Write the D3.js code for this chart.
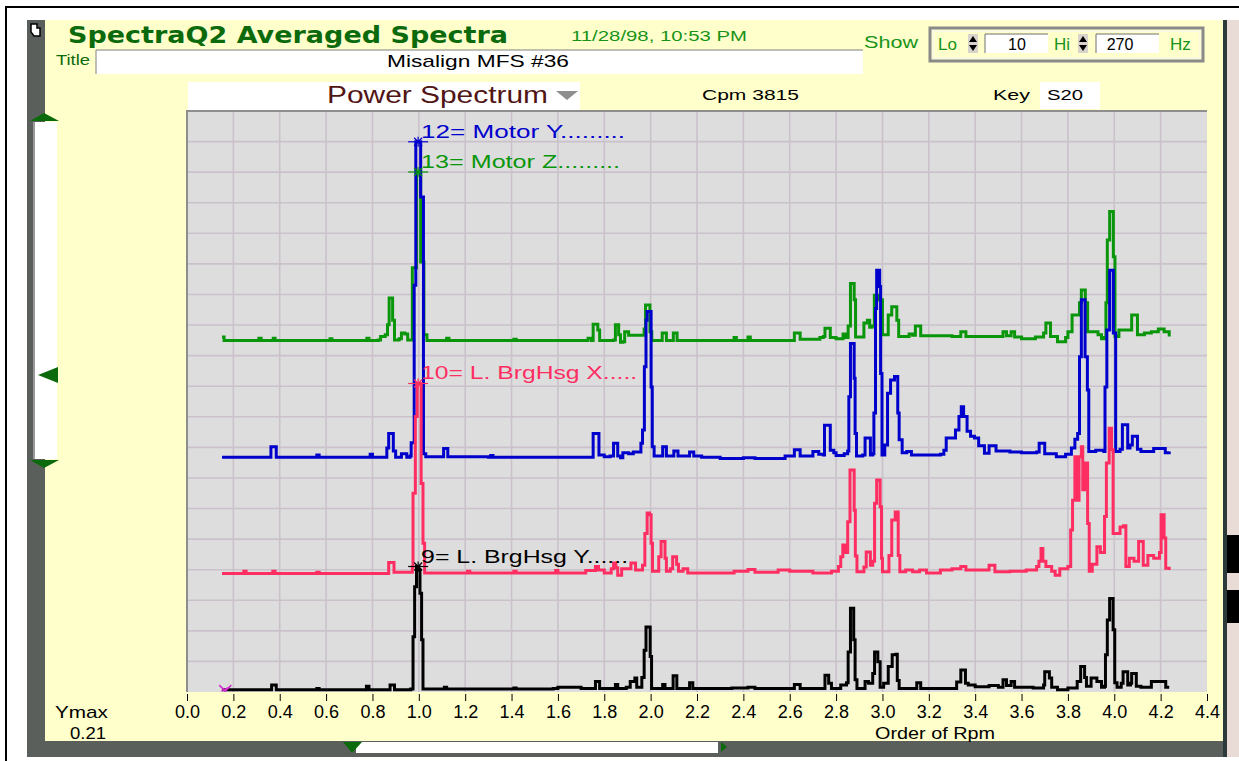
<!DOCTYPE html>
<html>
<head>
<meta charset="utf-8">
<script src="https://cdn.jsdelivr.net/npm/d3@7"></script>
<style>
  body { margin: 0; background: #ffffff; }
  svg text { font-family: "Liberation Sans", Arial, sans-serif; }
</style>
</head>
<body>
<svg id="chart" width="1239" height="761"></svg>
<script>
"use strict";

// ---- data (amplitude in % of plot height, order of rpm) ----
const x_ticks = [0.0, 0.2, 0.4, 0.6, 0.8, 1.0, 1.2, 1.4, 1.6, 1.8, 2.0, 2.2, 2.4, 2.6, 2.8, 3.0, 3.2, 3.4, 3.6, 3.8, 4.0, 4.2, 4.4];

const trace_names = ["9= L. BrgHsg Y......", "10= L. BrgHsg X.....", "12= Motor Y.........", "13= Motor Z........."];
const trace_offsets = [0, 20, 40, 60];

const black_brg_y = [[0.151,0.4],[0.36,0.4],[0.365,1.2],[0.378,1.2],[0.385,0.4],[0.55,0.4],[0.56,0.6],[0.57,0.4],[0.768,0.4],[0.774,1.0],[0.785,0.4],[0.870,0.4],[0.876,1.2],[0.888,1.2],[0.895,0.4],[0.965,0.5],[0.975,9.5],[0.982,18.1],[0.990,21.6],[1.000,21.0],[1.005,17.0],[1.012,9.0],[1.018,0.5],[1.10,0.5],[1.11,0.8],[1.12,0.5],[1.40,0.5],[1.41,0.7],[1.42,0.5],[1.58,0.6],[1.60,0.8],[1.70,0.6],[1.755,0.6],[1.762,1.8],[1.772,1.8],[1.780,0.6],[1.84,0.6],[1.848,1.3],[1.858,0.6],[1.895,0.8],[1.912,1.8],[1.925,1.8],[1.932,2.4],[1.940,0.8],[1.955,0.8],[1.962,2.5],[1.972,7.2],[1.980,11.2],[1.992,11.2],[1.998,6.1],[2.004,0.6],[2.040,0.6],[2.052,1.3],[2.062,0.6],[2.090,0.6],[2.097,2.8],[2.108,2.8],[2.113,0.6],[2.160,0.6],[2.168,1.6],[2.176,1.6],[2.182,0.6],[2.35,0.7],[2.42,0.8],[2.45,0.6],[2.60,0.6],[2.62,1.3],[2.635,1.3],[2.645,0.6],[2.745,0.6],[2.752,2.9],[2.762,2.9],[2.768,1.5],[2.78,0.6],[2.82,1.2],[2.845,1.6],[2.852,6.9],[2.862,14.4],[2.870,14.4],[2.876,9.0],[2.882,2.1],[2.890,0.6],[2.925,1.8],[2.940,1.5],[2.958,3.2],[2.966,6.9],[2.974,6.9],[2.980,5.2],[2.990,0.8],[3.005,1.5],[3.025,4.4],[3.042,6.4],[3.058,6.5],[3.064,2.0],[3.072,0.6],[3.14,0.6],[3.148,1.6],[3.158,1.6],[3.165,0.6],[3.30,0.6],[3.32,1.7],[3.338,3.8],[3.350,3.8],[3.358,1.5],[3.37,1.2],[3.40,0.9],[3.46,1.1],[3.50,0.8],[3.52,2.1],[3.535,1.1],[3.555,1.8],[3.57,0.8],[3.65,0.7],[3.695,1.2],[3.700,3.5],[3.712,3.5],[3.720,2.4],[3.730,0.8],[3.755,0.4],[3.80,0.7],[3.840,1.8],[3.855,4.4],[3.865,4.4],[3.872,2.5],[3.880,1.0],[3.90,2.4],[3.925,1.8],[3.945,0.8],[3.958,1.0],[3.962,6.4],[3.970,12.4],[3.980,16.1],[3.990,16.1],[3.995,10.7],[4.002,1.6],[4.012,0.8],[4.030,1.5],[4.038,3.5],[4.050,3.5],[4.058,1.2],[4.070,1.5],[4.075,3.2],[4.088,3.2],[4.095,1.0],[4.115,0.8],[4.160,1.8],[4.200,1.8],[4.222,0.8],[4.237,0.8]];

const red_brg_x = [[0.151,0.4],[0.240,0.4],[0.245,0.8],[0.255,0.4],[0.36,0.4],[0.37,0.8],[0.38,0.4],[0.55,0.4],[0.56,0.6],[0.57,0.4],[0.862,0.4],[0.870,2.3],[0.885,2.3],[0.893,0.6],[0.960,0.6],[0.972,1.5],[0.975,14.2],[0.985,27.4],[0.993,33.1],[1.003,33.1],[1.010,15.9],[1.018,5.6],[1.025,0.5],[1.20,0.5],[1.21,0.8],[1.22,0.5],[1.40,0.5],[1.41,0.8],[1.42,0.5],[1.58,0.5],[1.59,0.9],[1.60,0.5],[1.70,0.5],[1.72,0.9],[1.762,1.6],[1.775,1.0],[1.80,0.5],[1.83,1.2],[1.840,2.2],[1.850,1.4],[1.858,0.1],[1.875,1.2],[1.915,2.2],[1.925,2.2],[1.935,1.0],[1.955,1.0],[1.965,1.8],[1.975,7.3],[1.985,10.8],[1.995,10.5],[2.002,5.6],[2.008,0.8],[2.025,0.8],[2.035,3.3],[2.045,5.9],[2.058,5.9],[2.062,3.0],[2.068,0.8],[2.085,1.2],[2.095,3.3],[2.105,3.3],[2.112,2.0],[2.120,0.8],[2.14,1.2],[2.16,0.5],[2.36,0.8],[2.42,1.1],[2.45,0.6],[2.55,1.0],[2.60,0.8],[2.70,0.5],[2.78,0.8],[2.810,1.6],[2.820,3.3],[2.829,5.3],[2.840,4.0],[2.850,9.3],[2.860,18.2],[2.870,18.2],[2.878,11.3],[2.883,3.4],[2.890,0.7],[2.920,1.5],[2.930,4.1],[2.940,4.1],[2.948,1.8],[2.958,2.5],[2.966,12.5],[2.975,16.5],[2.984,16.5],[2.990,11.9],[2.996,3.0],[3.000,0.7],[3.020,0.7],[3.028,3.5],[3.040,9.6],[3.055,11.0],[3.062,11.0],[3.068,3.5],[3.075,0.7],[3.10,1.0],[3.13,0.7],[3.16,1.0],[3.19,0.5],[3.25,1.0],[3.30,1.2],[3.338,1.6],[3.350,1.6],[3.36,1.0],[3.44,1.0],[3.460,1.8],[3.475,1.8],[3.485,0.7],[3.55,0.8],[3.62,1.0],[3.665,1.6],[3.675,2.5],[3.684,4.7],[3.692,2.5],[3.705,1.6],[3.730,0.8],[3.745,0.1],[3.765,1.2],[3.800,1.6],[3.812,7.9],[3.820,13.0],[3.830,20.5],[3.840,13.0],[3.848,20.5],[3.858,22.2],[3.864,14.8],[3.872,19.4],[3.878,19.4],[3.885,9.0],[3.892,0.8],[3.905,2.0],[3.925,5.0],[3.940,4.0],[3.958,10.2],[3.966,19.4],[3.978,25.4],[3.988,21.7],[3.995,7.3],[4.010,7.3],[4.025,8.4],[4.040,8.6],[4.050,1.6],[4.065,3.0],[4.085,2.5],[4.105,5.9],[4.115,5.9],[4.125,1.8],[4.145,3.5],[4.170,3.0],[4.195,4.0],[4.202,10.5],[4.210,10.5],[4.215,6.5],[4.222,1.3],[4.237,1.0]];

const blue_motor_y = [[0.151,0.4],[0.355,0.4],[0.362,2.2],[0.378,2.2],[0.385,0.4],[0.55,0.4],[0.56,0.8],[0.57,0.4],[0.78,0.4],[0.79,0.9],[0.80,0.4],[0.855,0.4],[0.862,2.0],[0.870,4.5],[0.882,4.5],[0.890,1.5],[0.900,0.4],[0.915,0.4],[0.925,1.0],[0.940,1.0],[0.948,0.4],[0.962,0.6],[0.967,2.9],[0.975,2.9],[0.980,30.0],[0.987,54.7],[1.003,54.7],[1.008,45.2],[1.015,45.2],[1.020,1.0],[1.030,0.5],[1.100,0.5],[1.107,1.9],[1.117,1.9],[1.125,0.5],[1.30,0.4],[1.31,0.7],[1.32,0.4],[1.745,0.4],[1.752,4.5],[1.770,4.5],[1.777,0.8],[1.800,0.5],[1.825,0.6],[1.840,2.8],[1.852,2.8],[1.858,0.6],[1.870,0.3],[1.880,1.2],[1.905,1.0],[1.925,1.3],[1.945,1.3],[1.958,2.8],[1.965,5.1],[1.973,16.0],[1.980,24.0],[1.985,25.5],[1.998,25.5],[2.002,12.5],[2.007,2.2],[2.015,0.6],[2.045,0.6],[2.052,2.2],[2.060,2.2],[2.068,0.6],[2.095,0.6],[2.100,1.5],[2.110,1.5],[2.118,0.6],[2.160,0.6],[2.168,1.3],[2.178,1.3],[2.186,0.6],[2.22,0.4],[2.30,0.2],[2.40,0.3],[2.45,0.2],[2.58,0.6],[2.62,1.7],[2.635,1.7],[2.645,0.6],[2.69,0.6],[2.700,1.4],[2.715,1.4],[2.725,0.9],[2.745,0.8],[2.750,5.9],[2.768,5.9],[2.775,1.6],[2.790,1.2],[2.800,0.7],[2.835,1.0],[2.850,1.5],[2.855,10.8],[2.862,20.0],[2.872,20.0],[2.878,14.0],[2.882,4.5],[2.888,0.6],[2.915,0.8],[2.925,3.7],[2.940,3.7],[2.948,0.8],[2.958,1.0],[2.963,8.0],[2.970,26.0],[2.975,32.6],[2.982,32.6],[2.988,29.8],[2.992,14.8],[2.998,0.8],[3.010,2.5],[3.022,11.4],[3.035,13.7],[3.052,14.3],[3.060,14.3],[3.066,8.0],[3.072,3.4],[3.085,1.2],[3.105,1.4],[3.125,0.8],[3.25,0.9],[3.265,1.6],[3.275,3.7],[3.300,3.7],[3.315,5.1],[3.330,7.4],[3.340,9.1],[3.350,7.4],[3.365,4.9],[3.380,4.0],[3.397,3.7],[3.415,2.4],[3.440,1.1],[3.460,2.4],[3.475,2.4],[3.49,1.5],[3.55,1.3],[3.60,1.2],[3.665,1.3],[3.676,2.8],[3.690,2.8],[3.700,1.0],[3.75,0.5],[3.79,0.9],[3.815,2.0],[3.830,3.5],[3.842,4.5],[3.850,17.7],[3.858,27.5],[3.866,27.5],[3.874,17.7],[3.878,17.7],[3.884,12.0],[3.890,1.4],[3.920,1.6],[3.955,1.4],[3.960,12.5],[3.968,22.3],[3.980,32.6],[3.990,32.6],[3.996,21.8],[4.000,21.8],[4.006,1.4],[4.025,1.8],[4.035,6.0],[4.050,6.0],[4.058,2.0],[4.068,2.5],[4.078,4.0],[4.092,4.0],[4.100,1.8],[4.115,1.4],[4.170,1.9],[4.200,1.9],[4.220,1.2],[4.237,1.4]];

const green_motor_z = [[0.151,1.1],[0.160,0.5],[0.300,0.5],[0.310,0.9],[0.320,0.5],[0.365,0.5],[0.372,0.9],[0.380,0.5],[0.610,0.5],[0.617,0.8],[0.625,0.5],[0.770,0.5],[0.776,0.9],[0.785,0.5],[0.825,0.6],[0.835,1.2],[0.855,1.5],[0.865,3.2],[0.872,7.8],[0.880,7.8],[0.887,4.0],[0.895,0.6],[0.915,0.8],[0.925,1.8],[0.940,1.6],[0.952,0.6],[0.965,0.6],[0.972,13.0],[0.985,13.0],[0.990,29.5],[1.002,29.5],[1.008,14.0],[1.016,14.0],[1.022,1.5],[1.035,0.5],[1.115,0.5],[1.12,0.9],[1.13,0.5],[1.40,0.5],[1.41,0.7],[1.42,0.5],[1.72,0.5],[1.73,0.9],[1.745,0.5],[1.752,3.3],[1.765,3.3],[1.772,2.3],[1.780,0.5],[1.84,0.6],[1.848,3.2],[1.857,3.2],[1.862,1.5],[1.870,0.2],[1.880,0.3],[1.888,2.0],[1.897,2.0],[1.905,1.4],[1.960,1.4],[1.972,2.5],[1.978,6.6],[1.992,6.6],[1.997,2.0],[2.005,0.5],[2.045,0.5],[2.050,1.8],[2.062,1.8],[2.068,0.5],[2.093,0.5],[2.098,1.8],[2.108,1.8],[2.114,0.5],[2.35,0.5],[2.36,1.0],[2.37,0.5],[2.41,0.5],[2.42,1.1],[2.43,0.5],[2.60,0.5],[2.62,1.8],[2.635,1.8],[2.645,0.7],[2.72,0.7],[2.73,1.0],[2.745,1.2],[2.752,2.6],[2.768,2.6],[2.775,1.0],[2.80,0.8],[2.83,1.6],[2.840,1.0],[2.852,3.0],[2.862,10.3],[2.872,10.3],[2.878,7.5],[2.884,1.1],[2.91,1.1],[2.92,3.5],[2.935,4.0],[2.945,2.8],[2.955,3.0],[2.965,8.3],[2.975,8.3],[2.985,7.5],[2.995,7.5],[3.000,1.5],[3.015,1.5],[3.025,4.9],[3.040,6.3],[3.055,6.3],[3.062,4.0],[3.070,1.2],[3.10,1.2],[3.115,1.6],[3.13,1.4],[3.142,3.0],[3.158,3.0],[3.165,1.3],[3.30,1.2],[3.338,2.0],[3.352,2.0],[3.36,1.2],[3.50,1.2],[3.52,2.0],[3.535,1.3],[3.555,2.0],[3.57,1.1],[3.60,0.8],[3.66,1.1],[3.695,1.8],[3.705,3.5],[3.715,3.5],[3.725,1.2],[3.755,0.3],[3.79,1.0],[3.80,2.0],[3.818,4.9],[3.838,4.9],[3.85,7.0],[3.858,9.2],[3.868,9.2],[3.875,7.0],[3.885,2.0],[3.90,2.0],[3.93,1.5],[3.945,0.8],[3.958,1.0],[3.964,7.0],[3.970,17.8],[3.980,22.7],[3.990,22.7],[3.996,14.9],[4.003,1.2],[4.02,2.3],[4.06,2.3],[4.075,4.9],[4.090,4.9],[4.100,1.5],[4.13,1.8],[4.16,2.0],[4.19,2.5],[4.215,2.0],[4.237,1.2]];

// cursor markers at 1x rpm: order and peak amplitude for each trace
const marker_order = 0.997;
const marker_amps = [21.6, 33.1, 54.7, 29.5];

// ---- styles ----
const trace_colors = ["#000000", "#ff2e62", "#0000cc", "#0a960a"];
const yellow = "#ffffcc", dark_gray = "#5b5f5b", title_green = "#0b6a0b", text_green = "#179417";

let svg = d3.select("#chart");

// window frame
svg.append("path").attr("d", "M6,761V7H1239").attr("fill", "none").attr("stroke", "#000").attr("stroke-width", 2);
svg.append("rect").attr("x", 45).attr("y", 20).attr("width", 1179).attr("height", 722).attr("fill", yellow);
svg.append("rect").attr("x", 27).attr("y", 20).attr("width", 18).attr("height", 737).attr("fill", dark_gray);
svg.append("rect").attr("x", 27).attr("y", 741).attr("width", 1198).attr("height", 16).attr("fill", dark_gray);
svg.append("rect").attr("x", 1223).attr("y", 20).attr("width", 4).attr("height", 737).attr("fill", "#2c3a3a");
svg.append("rect").attr("x", 1227).attr("y", 20).attr("width", 12).attr("height", 737).attr("fill", "#e9dcd6");
svg.append("rect").attr("x", 1227).attr("y", 535).attr("width", 12).attr("height", 38).attr("fill", "#000");
svg.append("rect").attr("x", 1227).attr("y", 590).attr("width", 12).attr("height", 33).attr("fill", "#000");

// little hand cursor at the top left
svg.append("path").attr("d", "M31,24h6v4h3v8h-6l-3,-4z").attr("fill", "#fff").attr("stroke", "#000").attr("stroke-width", 1.5);

// vertical scroller on the left
svg.append("rect").attr("x", 33).attr("y", 122).attr("width", 24).attr("height", 337).attr("fill", "#fff");
svg.append("line").attr("x1", 34).attr("x2", 34).attr("y1", 122).attr("y2", 459).attr("stroke", "#9a9a9a").attr("stroke-width", 2);
svg.append("polygon").attr("points", "30,121 59,121 44,113").attr("fill", "#0b6a0b");
svg.append("polygon").attr("points", "30,460 59,460 44,468").attr("fill", "#0b6a0b");
svg.append("polygon").attr("points", "38,375 58,367 58,383").attr("fill", "#0b6a0b");

// horizontal scroller at the bottom
svg.append("rect").attr("x", 356).attr("y", 742).attr("width", 362).attr("height", 11).attr("fill", "#fff");
svg.append("polygon").attr("points", "343,742 362,742 352,753").attr("fill", "#0b6a0b");
svg.append("polygon").attr("points", "721,742 727,747 721,752").attr("fill", "#0b6a0b");

// ---- header ----
svg.append("text").attr("x", 68).attr("y", 43).attr("textLength", 440).attr("lengthAdjust", "spacingAndGlyphs")
  .style("font-family", "'DejaVu Sans', sans-serif").attr("font-weight", "bold").attr("font-size", 23)
  .attr("fill", title_green).text("SpectraQ2 Averaged Spectra");
svg.append("text").attr("x", 571).attr("y", 41).attr("textLength", 176).attr("lengthAdjust", "spacingAndGlyphs")
  .attr("font-size", 15).attr("fill", text_green).text("11/28/98, 10:53 PM");
svg.append("text").attr("x", 56).attr("y", 65).attr("textLength", 34).attr("lengthAdjust", "spacingAndGlyphs")
  .attr("font-size", 14).attr("fill", title_green).text("Title");

svg.append("rect").attr("x", 96).attr("y", 50).attr("width", 767).attr("height", 24).attr("fill", "#fff");
svg.append("path").attr("d", "M96,74V50H863").attr("fill", "none").attr("stroke", "#808080").attr("stroke-width", 1);
svg.append("text").attr("x", 387).attr("y", 67).attr("textLength", 182).attr("lengthAdjust", "spacingAndGlyphs")
  .attr("font-size", 17).attr("fill", "#000").text("Misalign MFS #36");

svg.append("text").attr("x", 864).attr("y", 48).attr("textLength", 54).attr("lengthAdjust", "spacingAndGlyphs")
  .attr("font-size", 17).attr("fill", text_green).text("Show");

// Lo / Hi group box
svg.append("rect").attr("x", 930).attr("y", 28).attr("width", 273).attr("height", 33).attr("fill", "none")
  .attr("stroke", "#8a8a8a").attr("stroke-width", 3);
svg.append("rect").attr("x", 933).attr("y", 31).attr("width", 267).attr("height", 27).attr("fill", "none")
  .attr("stroke", "#f4f4f4").attr("stroke-width", 1);

let lohi = [
  { label: "Lo", label_x: 938, spin_x: 968, box_x: 985, value: "10", value_x: 1017 },
  { label: "Hi", label_x: 1054, spin_x: 1078, box_x: 1096, value: "270", value_x: 1120 }
];
for (let b of lohi) {
  svg.append("text").attr("x", b.label_x).attr("y", 50).attr("font-size", 17).attr("fill", text_green).text(b.label);
  svg.append("rect").attr("x", b.spin_x).attr("y", 34).attr("width", 10).attr("height", 19).attr("fill", "#d8d4cc");
  svg.append("polygon").attr("points", `${b.spin_x + 1},42 ${b.spin_x + 9},42 ${b.spin_x + 5},36`).attr("fill", "#000");
  svg.append("polygon").attr("points", `${b.spin_x + 1},45 ${b.spin_x + 9},45 ${b.spin_x + 5},51`).attr("fill", "#000");
  svg.append("rect").attr("x", b.box_x).attr("y", 34).attr("width", 63).attr("height", 19).attr("fill", "#fff");
  svg.append("path").attr("d", `M${b.box_x},53V34H${b.box_x + 63}`).attr("fill", "none").attr("stroke", "#707070");
  svg.append("text").attr("x", b.value_x).attr("y", 50).attr("text-anchor", "middle").attr("font-size", 16).attr("fill", "#000").text(b.value);
}
svg.append("text").attr("x", 1170).attr("y", 50).attr("font-size", 17).attr("fill", text_green).text("Hz");

// Power Spectrum selector, Cpm, Key
svg.append("rect").attr("x", 188).attr("y", 82).attr("width", 392).attr("height", 28).attr("fill", "#fff");
svg.append("text").attr("x", 327).attr("y", 103).attr("textLength", 221).attr("lengthAdjust", "spacingAndGlyphs")
  .attr("font-size", 23).attr("fill", "#521515").text("Power Spectrum");
svg.append("polygon").attr("points", "556,91 578,91 567,100").attr("fill", "#8f8f8f");
svg.append("text").attr("x", 702).attr("y", 100).attr("textLength", 97).attr("lengthAdjust", "spacingAndGlyphs")
  .attr("font-size", 15).attr("fill", "#000").text("Cpm  3815");
svg.append("text").attr("x", 993).attr("y", 100).attr("textLength", 37).attr("lengthAdjust", "spacingAndGlyphs")
  .attr("font-size", 15).attr("fill", "#000").text("Key");
svg.append("rect").attr("x", 1040).attr("y", 82).attr("width", 60).attr("height", 27).attr("fill", "#fff");
svg.append("text").attr("x", 1047).attr("y", 100).attr("textLength", 36).attr("lengthAdjust", "spacingAndGlyphs")
  .attr("font-size", 15).attr("fill", "#000").text("S20");

// ---- plot ----
const plot_left = 187, plot_right = 1207, plot_top = 111, plot_bottom = 692;
const grid_rows = 19;

let x_scale = d3.scaleLinear().domain([0, 4.4]).range([plot_left, plot_right]);
let y_scale = d3.scaleLinear().domain([0, 100]).range([plot_bottom, plot_top]);

svg.append("rect").attr("x", plot_left).attr("y", plot_top).attr("width", plot_right - plot_left)
  .attr("height", plot_bottom - plot_top).attr("fill", "#dddddd");

let grid = svg.append("g").attr("stroke", "#cac1cb").attr("stroke-width", 1.6);
grid.selectAll(".vgrid").data(x_ticks.slice(1, -1)).enter().append("line")
  .attr("x1", d => x_scale(d)).attr("x2", d => x_scale(d)).attr("y1", plot_top).attr("y2", plot_bottom);
grid.selectAll(".hgrid").data(d3.range(1, grid_rows)).enter().append("line")
  .attr("x1", plot_left).attr("x2", plot_right)
  .attr("y1", d => y_scale(d * 100 / grid_rows)).attr("y2", d => y_scale(d * 100 / grid_rows));

svg.append("path").attr("d", `M${plot_left},${plot_bottom}V${plot_top}H${plot_right}`)
  .attr("fill", "none").attr("stroke", "#8e8e8e").attr("stroke-width", 2);

svg.append("clipPath").attr("id", "plot-area").append("rect")
  .attr("x", plot_left).attr("y", plot_top - 2).attr("width", plot_right - plot_left).attr("height", plot_bottom - plot_top + 2);

const traces = [black_brg_y, red_brg_x, blue_motor_y, green_motor_z];
// draw from top trace to bottom trace, lower traces sit on top
let draw_order = [3, 2, 1, 0];
let traces_g = svg.append("g").attr("clip-path", "url(#plot-area)");
for (let i of draw_order) {
  let line = d3.line()
    .curve(d3.curveStepAfter)
    .x(d => x_scale(d[0]))
    .y(d => y_scale(d[1] + trace_offsets[i]));
  traces_g.append("path")
    .attr("d", line(traces[i]))
    .attr("fill", "none")
    .attr("stroke", trace_colors[i])
    .attr("stroke-width", 3)
    .attr("stroke-linejoin", "miter");
}

// cursor markers and labels
for (let i of draw_order) {
  let mx = x_scale(marker_order), my = y_scale(marker_amps[i] + trace_offsets[i]);
  let m = svg.append("g").attr("stroke", trace_colors[i]).attr("stroke-width", 1.2);
  m.append("line").attr("x1", mx - 10).attr("x2", mx + 10).attr("y1", my).attr("y2", my);
  m.append("line").attr("x1", mx).attr("x2", mx).attr("y1", my - 5).attr("y2", my + 5);
  m.append("line").attr("x1", mx - 4).attr("x2", mx + 4).attr("y1", my - 4).attr("y2", my + 4);
  m.append("line").attr("x1", mx - 4).attr("x2", mx + 4).attr("y1", my + 4).attr("y2", my - 4);
}
const label_lengths = [207, 216, 204, 199];
for (let i of draw_order) {
  svg.append("text")
    .attr("x", x_scale(marker_order) + 3)
    .attr("y", y_scale(marker_amps[i] + trace_offsets[i]) - 4)
    .attr("textLength", label_lengths[i]).attr("lengthAdjust", "spacingAndGlyphs")
    .attr("font-size", 18)
    .attr("fill", trace_colors[i])
    .text(trace_names[i]);
}

// small magenta start cursor
let sx = x_scale(0.165), sy = y_scale(0.5);
svg.append("path").attr("d", `M${sx - 6},${sy - 4}L${sx},${sy + 2}L${sx + 6},${sy - 4}M${sx - 4},${sy + 2}L${sx + 4},${sy - 2}`)
  .attr("fill", "none").attr("stroke", "#d02ad0").attr("stroke-width", 1.5);

// x axis
let x_axis = svg.append("g")
  .attr("transform", "translate(0," + (plot_bottom + 2) + ")")
  .call(d3.axisBottom(x_scale).tickValues(x_ticks).tickFormat(d3.format(".1f")).tickSize(7).tickPadding(4));
x_axis.select(".domain").remove();
x_axis.selectAll("line").attr("stroke", "#000");
x_axis.selectAll("text").attr("font-size", 18).attr("fill", "#000")
  .style("font-family", "'Liberation Sans', Arial, sans-serif");

svg.append("text").attr("x", 55).attr("y", 718).attr("textLength", 53).attr("lengthAdjust", "spacingAndGlyphs")
  .attr("font-size", 17).attr("fill", "#000").text("Ymax");
svg.append("text").attr("x", 70).attr("y", 739).attr("textLength", 36).attr("lengthAdjust", "spacingAndGlyphs")
  .attr("font-size", 17).attr("fill", "#000").text("0.21");
svg.append("text").attr("x", 875).attr("y", 739).attr("textLength", 120).attr("lengthAdjust", "spacingAndGlyphs")
  .attr("font-size", 17).attr("fill", "#000").text("Order of Rpm");
</script>
</body>
</html>
